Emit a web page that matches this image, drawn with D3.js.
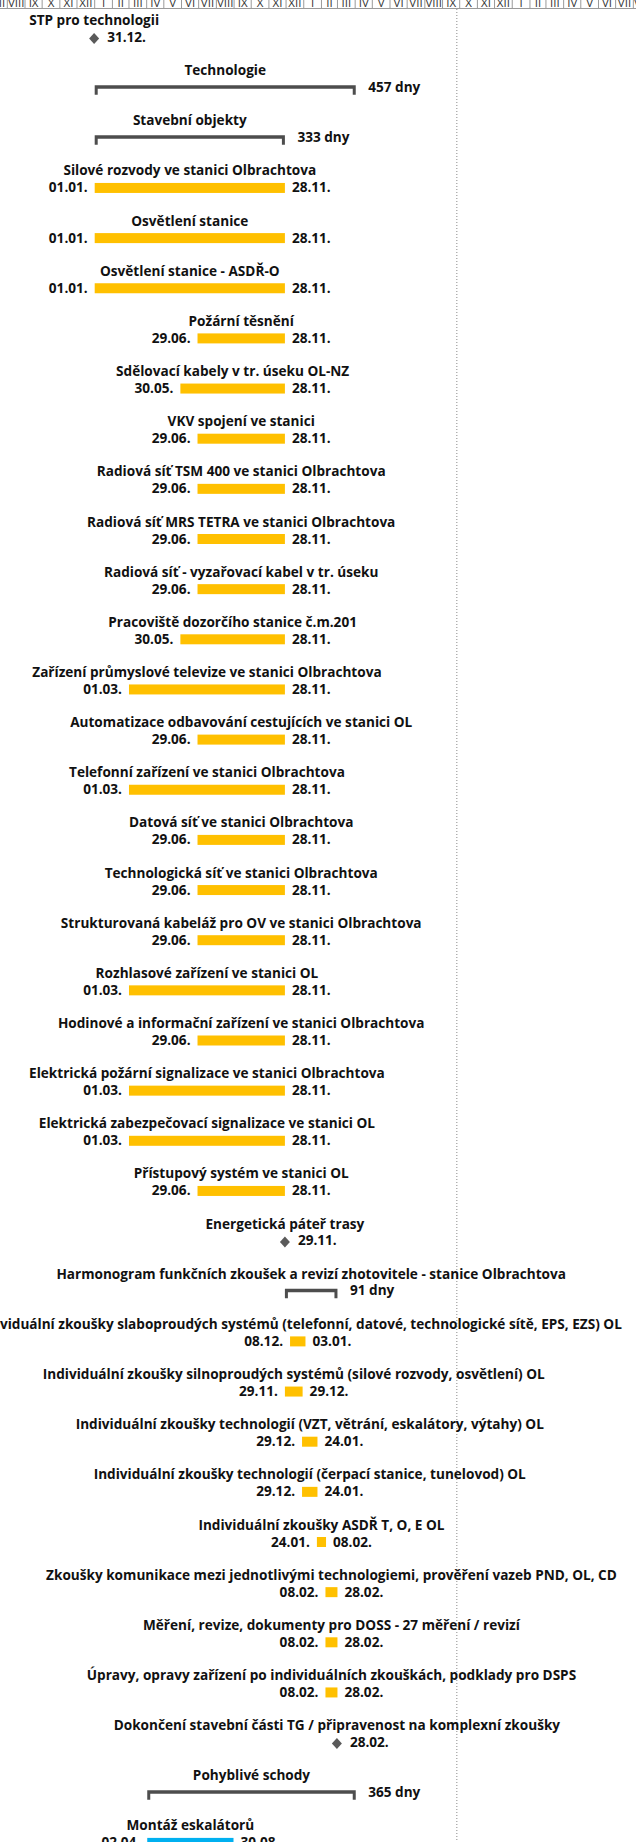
<!DOCTYPE html>
<html>
<head>
<meta charset="utf-8">
<script src="https://cdn.jsdelivr.net/npm/d3@7"></script>
<style>
  body { margin: 0; background: #fff; }
  svg { display: block; font-family: "Open Sans", "Noto Sans", sans-serif; }
</style>
</head>
<body>
<svg width="636" height="1842"></svg>
<script>
// task table, one entry per row (top to bottom)
var taskNames = [
  "STP pro technologii",
  "Technologie",
  "Stavební objekty",
  "Silové rozvody ve stanici Olbrachtova",
  "Osvětlení stanice",
  "Osvětlení stanice - ASDŘ-O",
  "Požární těsnění",
  "Sdělovací kabely v tr. úseku OL-NZ",
  "VKV spojení ve stanici",
  "Radiová síť TSM 400 ve stanici Olbrachtova",
  "Radiová síť MRS TETRA ve stanici Olbrachtova",
  "Radiová síť - vyzařovací kabel v tr. úseku",
  "Pracoviště dozorčího stanice č.m.201",
  "Zařízení průmyslové televize ve stanici Olbrachtova",
  "Automatizace odbavování cestujících ve stanici OL",
  "Telefonní zařízení ve stanici Olbrachtova",
  "Datová síť ve stanici Olbrachtova",
  "Technologická síť ve stanici Olbrachtova",
  "Strukturovaná kabeláž pro OV ve stanici Olbrachtova",
  "Rozhlasové zařízení ve stanici OL",
  "Hodinové a informační zařízení ve stanici Olbrachtova",
  "Elektrická požární signalizace ve stanici Olbrachtova",
  "Elektrická zabezpečovací signalizace ve stanici OL",
  "Přístupový systém ve stanici OL",
  "Energetická páteř trasy",
  "Harmonogram funkčních zkoušek a revizí zhotovitele - stanice Olbrachtova",
  "Individuální zkoušky slaboproudých systémů (telefonní, datové, technologické sítě, EPS, EZS) OL",
  "Individuální zkoušky silnoproudých systémů (silové rozvody, osvětlení) OL",
  "Individuální zkoušky technologií (VZT, větrání, eskalátory, výtahy) OL",
  "Individuální zkoušky technologií (čerpací stanice, tunelovod) OL",
  "Individuální zkoušky ASDŘ T, O, E OL",
  "Zkoušky komunikace mezi jednotlivými technologiemi, prověření vazeb PND, OL, CD",
  "Měření, revize, dokumenty pro DOSS - 27 měření / revizí",
  "Úpravy, opravy zařízení po individuálních zkouškách, podklady pro DSPS",
  "Dokončení stavební části TG / připravenost na komplexní zkoušky",
  "Pohyblivé schody",
  "Montáž eskalátorů"
];

var taskKinds = [
  "milestone", "summary", "summary",
  "task", "task", "task", "task", "task", "task", "task", "task", "task", "task",
  "task", "task", "task", "task", "task", "task", "task", "task", "task", "task", "task",
  "milestone", "summary",
  "task", "task", "task", "task", "task", "task", "task", "task",
  "milestone", "summary", "escalator"
];

var taskStarts = [
  "31.12.2019", "01.01.2020", "01.01.2020",
  "01.01.2020", "01.01.2020", "01.01.2020", "29.06.2020", "30.05.2020", "29.06.2020",
  "29.06.2020", "29.06.2020", "29.06.2020", "30.05.2020", "01.03.2020", "29.06.2020",
  "01.03.2020", "29.06.2020", "29.06.2020", "29.06.2020", "01.03.2020", "29.06.2020",
  "01.03.2020", "01.03.2020", "29.06.2020",
  "29.11.2020", "29.11.2020",
  "08.12.2020", "29.11.2020", "29.12.2020", "29.12.2020", "24.01.2021",
  "08.02.2021", "08.02.2021", "08.02.2021",
  "28.02.2021", "02.04.2020", "02.04.2020"
];

var taskEnds = [
  "31.12.2019", "01.04.2021", "28.11.2020",
  "28.11.2020", "28.11.2020", "28.11.2020", "28.11.2020", "28.11.2020", "28.11.2020",
  "28.11.2020", "28.11.2020", "28.11.2020", "28.11.2020", "28.11.2020", "28.11.2020",
  "28.11.2020", "28.11.2020", "28.11.2020", "28.11.2020", "28.11.2020", "28.11.2020",
  "28.11.2020", "28.11.2020", "28.11.2020",
  "29.11.2020", "28.02.2021",
  "03.01.2021", "29.12.2020", "24.01.2021", "24.01.2021", "08.02.2021",
  "28.02.2021", "28.02.2021", "28.02.2021",
  "28.02.2021", "01.04.2021", "30.08.2020"
];

// duration shown right of each summary bracket, in row order
var summaryDays = [457, 333, 91, 365];

var romanMonths = ["I", "II", "III", "IV", "V", "VI", "VII", "VIII", "IX", "X", "XI", "XII"];
var statusDate = "26.09.2021";

var kindColors = { task: "#FFC000", escalator: "#00B0F0", milestone: "#5a5a5a", summary: "#4d4d4d" };

var svg = d3.select("svg"),
  width = +svg.attr("width"),
  height = +svg.attr("height");

var parse = d3.utcParse("%d.%m.%Y"),
  fmt = d3.utcFormat("%d.%m.");

var rows = taskNames.map(function(name, i) {
  return { name: name, kind: taskKinds[i], start: parse(taskStarts[i]), end: parse(taskEnds[i]) };
});
var s = 0;
rows.forEach(function(d) { if (d.kind === "summary") d.days = summaryDays[s++]; });

// time scale: about 0.571 px a day, 1 Jan 2020 sits at x = 94.7
var x = d3.scaleUtc()
  .domain([parse("01.01.2020"), parse("01.01.2021")])
  .range([94.7, 94.7 + 366 * 0.5712]);

var y = d3.scalePoint()
  .domain(d3.range(rows.length))
  .range([20.5, 20.5 + 50.15 * (rows.length - 1)]);

var fs = "13.6px";

// month header (only its lower strip is visible)
var months = d3.utcMonth.range(d3.utcMonth.floor(x.invert(0)), x.invert(width));
var head = svg.append("g").attr("class", "header");
head.selectAll("line")
  .data(months)
  .enter().append("line")
    .attr("x1", function(d) { return x(d); })
    .attr("x2", function(d) { return x(d); })
    .attr("y1", 0)
    .attr("y2", 8)
    .attr("stroke", "#9a9a9a");
head.selectAll("text")
  .data(months)
  .enter().append("text")
    .attr("x", function(d) { return (x(d) + x(d3.utcMonth.offset(d, 1))) / 2; })
    .attr("y", 6.5)
    .attr("text-anchor", "middle")
    .attr("font-size", "11.5px")
    .attr("fill", "#333")
    .text(function(d) { return romanMonths[d.getUTCMonth()]; });
head.append("line")
  .attr("x1", 0).attr("x2", width)
  .attr("y1", 8.5).attr("y2", 8.5)
  .attr("stroke", "#9a9a9a");

// status date line
svg.append("line")
  .attr("x1", x(parse(statusDate)))
  .attr("x2", x(parse(statusDate)))
  .attr("y1", 9)
  .attr("y2", height)
  .attr("stroke", "#8a8a8a")
  .attr("stroke-dasharray", "1,2");

var row = svg.append("g")
  .selectAll("g")
  .data(rows)
  .enter().append("g")
    .attr("transform", function(d, i) { return "translate(0," + y(i) + ")"; });

// bar end = end of the last day
function x0(d) { return x(d.start); }
function x1(d) { return x(d3.utcDay.offset(d.end, 1)); }
function mid(d) { return d.kind === "milestone" ? x(d.start) : (x0(d) + x1(d)) / 2; }

row.append("text")
  .attr("x", mid)
  .attr("y", 4.5)
  .attr("text-anchor", "middle")
  .attr("font-size", fs)
  .attr("font-weight", "bold")
  .attr("fill", "#111")
  .text(function(d) { return d.name; });

var bars = row.filter(function(d) { return d.kind === "task" || d.kind === "escalator"; });
bars.append("rect")
  .attr("x", x0)
  .attr("y", 12)
  .attr("width", function(d) { return x1(d) - x0(d); })
  .attr("height", 10)
  .attr("fill", function(d) { return kindColors[d.kind]; });
bars.append("text")
  .attr("x", function(d) { return x0(d) - 7; })
  .attr("y", 21.5)
  .attr("text-anchor", "end")
  .attr("font-size", fs)
  .attr("font-weight", "bold")
  .attr("fill", "#111")
  .text(function(d) { return fmt(d.start); });
bars.append("text")
  .attr("x", function(d) { return x1(d) + 7; })
  .attr("y", 21.5)
  .attr("font-size", fs)
  .attr("font-weight", "bold")
  .attr("fill", "#111")
  .text(function(d) { return fmt(d.end); });

var sums = row.filter(function(d) { return d.kind === "summary"; });
sums.append("path")
  .attr("d", function(d) {
    var a = x0(d), b = x1(d);
    return "M" + a + ",14.5H" + b + "V24H" + (b - 3) + "V18H" + (a + 3) + "V24H" + a + "Z";
  })
  .attr("fill", kindColors.summary);
sums.append("text")
  .attr("x", function(d) { return x1(d) + 12.5; })
  .attr("y", 21)
  .attr("font-size", fs)
  .attr("font-weight", "bold")
  .attr("fill", "#111")
  .text(function(d) { return d.days + " dny"; });

var miles = row.filter(function(d) { return d.kind === "milestone"; });
miles.append("path")
  .attr("d", function(d) {
    var cx = x(d.start);
    return "M" + cx + ",12.5L" + (cx + 5) + ",18L" + cx + ",23.5L" + (cx - 5) + ",18Z";
  })
  .attr("fill", kindColors.milestone);
miles.append("text")
  .attr("x", function(d) { return x(d.start) + 13; })
  .attr("y", 21)
  .attr("font-size", fs)
  .attr("font-weight", "bold")
  .attr("fill", "#111")
  .text(function(d) { return fmt(d.start); });
</script>
</body>
</html>
